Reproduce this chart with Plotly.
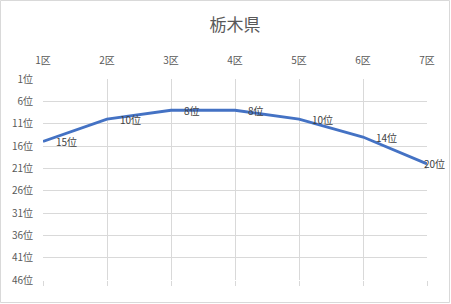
import plotly.graph_objects as go

districts = ["1区", "2区", "3区", "4区", "5区", "6区", "7区"]
ranks = [15, 10, 8, 8, 10, 14, 20]
rank_ticks = [1, 6, 11, 16, 21, 26, 31, 36, 41, 46]
rank_labels = [f"{v}位" for v in rank_ticks]
point_labels = [f"{v}位" for v in ranks]
title_text = "栃木県"

W, H = 451, 304
L, R, T, B = 43, 24, 79, 24
FONT = "Noto Sans CJK JP"
GRAY = "#595959"
GRID = "#d9d9d9"

xs = list(range(len(districts)))

fig = go.Figure()
fig.add_trace(go.Scatter(
    x=xs, y=ranks, mode="lines",
    line=dict(color="#4472C4", width=2.8),
    hoverinfo="skip", showlegend=False,
))
# invisible trace for bottom tick axis
fig.add_trace(go.Scatter(x=xs, y=ranks, xaxis="x2", mode="markers",
                         marker=dict(opacity=0), hoverinfo="skip", showlegend=False))

annotations = []
for i, (x, y, t) in enumerate(zip(xs, ranks, point_labels)):
    last = i == len(xs) - 1
    annotations.append(dict(
        x=x, y=y, xref="x", yref="y", text=t, showarrow=False,
        xanchor="left", yanchor="middle",
        xshift=(-5 if last else 11),
        font=dict(family=FONT, size=10, color="#404040"),
    ))

pw = W - L - R
ph = H - T - B
fig.update_layout(
    width=W, height=H,
    margin=dict(l=L, r=R, t=T, b=B),
    paper_bgcolor="white", plot_bgcolor="white",
    title=dict(text=title_text, x=0.5, xref="paper", xanchor="center",
               y=1 - 25 / H, yanchor="middle", yref="container",
               font=dict(family=FONT, size=17, color=GRAY)),
    xaxis=dict(
        side="top", range=[0, len(xs) - 1], tickvals=xs, ticktext=districts,
        showgrid=True, gridcolor=GRID, gridwidth=1, zeroline=False,
        showline=False, ticks="", ticklabelstandoff=12,
        tickfont=dict(family=FONT, size=10, color=GRAY),
    ),
    xaxis2=dict(
        overlaying="x", side="bottom", range=[0, len(xs) - 1], tickvals=xs,
        showticklabels=False, ticks="outside", ticklen=5, tickcolor=GRID,
        tickwidth=1, showgrid=False, zeroline=False, showline=False,
    ),
    yaxis=dict(
        range=[46, 1], tickvals=rank_ticks, ticktext=rank_labels,
        showgrid=True, gridcolor=GRID, gridwidth=1, zeroline=False,
        showline=False, ticks="", ticklabelstandoff=9,
        tickfont=dict(family=FONT, size=10, color=GRAY),
    ),
    annotations=annotations,
    shapes=[dict(type="rect", xref="paper", yref="paper",
                 x0=(0.5 - L) / pw, x1=(449.5 - L) / pw,
                 y0=-(302.5 - T - ph) / ph, y1=1 + (T - 0.5) / ph,
                 line=dict(color=GRID, width=1), layer="below")],
)

fig.write_html("out.html")
